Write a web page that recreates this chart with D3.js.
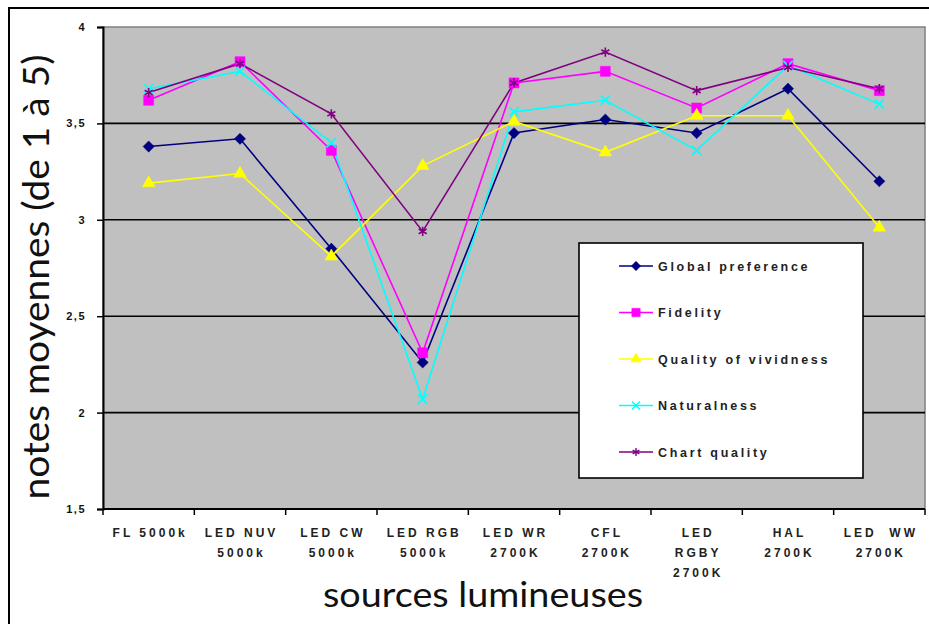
<!DOCTYPE html>
<html>
<head>
<meta charset="utf-8">
<script src="https://cdn.jsdelivr.net/npm/d3@7"></script>
<style>
  html, body { margin: 0; padding: 0; background: #fff; }
  svg { display: block; }
  .tick text { font-family: Arial, "Liberation Sans", sans-serif; font-weight: bold; }
</style>
</head>
<body>
<svg id="chart" width="929" height="624"></svg>
<script>
const categories = ["FL 5000k", "LED NUV\n5000k", "LED CW\n5000k", "LED RGB\n5000k", "LED WR\n2700K", "CFL\n2700K", "LED\nRGBY\n2700K", "HAL\n2700K", "LED  WW\n2700K"];
const seriesNames = ["Global preference", "Fidelity", "Quality of vividness", "Naturalness", "Chart quality"];
const globalPreference = [3.38, 3.42, 2.85, 2.26, 3.45, 3.52, 3.45, 3.68, 3.20];
const fidelity = [3.62, 3.82, 3.36, 2.31, 3.71, 3.77, 3.58, 3.81, 3.67];
const qualityOfVividness = [3.19, 3.24, 2.81, 3.28, 3.51, 3.35, 3.54, 3.54, 2.96];
const naturalness = [3.68, 3.77, 3.40, 2.07, 3.56, 3.62, 3.36, 3.80, 3.60];
const chartQuality = [3.66, 3.81, 3.55, 2.94, 3.71, 3.87, 3.67, 3.79, 3.68];
const yTicks = [1.5, 2, 2.5, 3, 3.5, 4];
const yTitle = "notes moyennes (de 1 à 5)";
const xTitle = "sources lumineuses";

const seriesValues = [globalPreference, fidelity, qualityOfVividness, naturalness, chartQuality];
const colors = ["#000080", "#FF00FF", "#FFFF00", "#00FFFF", "#800080"];
const symbols = [d3.symbolDiamond2, d3.symbolSquare, d3.symbolTriangle, d3.symbolX, d3.symbolAsterisk];
const symbolSizes = [80, 100, 70, 60, 60];
const filled = [true, true, true, false, false];

const svg = d3.select("#chart");
const pLeft = 103, pRight = 925, pTop = 27, pBottom = 509;

const x = d3.scaleBand().domain(categories).range([pLeft, pRight]).padding(0);
const y = d3.scaleLinear().domain([1.5, 4]).range([pBottom, pTop]);

// outer frame
svg.append("rect").attr("x", 9).attr("y", 8).attr("width", 940).attr("height", 640)
  .attr("fill", "none").attr("stroke", "#000").attr("stroke-width", 2);

// plot background
svg.append("rect").attr("x", pLeft).attr("y", pTop).attr("width", pRight - pLeft).attr("height", pBottom - pTop)
  .attr("fill", "#C0C0C0").attr("stroke", "#808080").attr("stroke-width", 1.5);

// gridlines
svg.append("g").selectAll("line").data(yTicks.filter(d => d > 1.5 && d < 4)).join("line")
  .attr("x1", pLeft).attr("x2", pRight).attr("y1", d => y(d)).attr("y2", d => y(d))
  .attr("stroke", "#000").attr("stroke-width", 1.6);

// y axis
const yAxis = svg.append("g").attr("transform", `translate(${pLeft},0)`)
  .call(d3.axisLeft(y).tickValues(yTicks).tickSize(6).tickPadding(11)
    .tickFormat(d => String(d).replace(".", ",")));
yAxis.select(".domain").attr("stroke", "#000").attr("stroke-width", 2);
yAxis.selectAll(".tick line").attr("stroke", "#000").attr("stroke-width", 1.5);
yAxis.selectAll(".tick text").attr("font-size", 11).attr("fill", "#111").attr("letter-spacing", 1.5);

// x axis
const bandEdges = categories.map(c => x(c)).concat([pRight]);
svg.append("line").attr("x1", pLeft).attr("x2", pRight).attr("y1", pBottom).attr("y2", pBottom)
  .attr("stroke", "#000").attr("stroke-width", 2);
svg.append("g").selectAll("line").data(bandEdges).join("line")
  .attr("x1", d => d).attr("x2", d => d).attr("y1", pBottom).attr("y2", pBottom + 6)
  .attr("stroke", "#000").attr("stroke-width", 1.5);
const xl = svg.append("g").selectAll("text").data(categories).join("text")
  .attr("x", d => x(d) + x.bandwidth() / 2)
  .attr("y", 537)
  .attr("text-anchor", "middle")
  .attr("font-family", "Arial, 'Liberation Sans', sans-serif")
  .attr("font-weight", "bold").attr("font-size", 12).attr("fill", "#222")
  .attr("letter-spacing", 3);
xl.each(function(d) {
  const t = d3.select(this);
  d.split("\n").forEach((ln, i) => {
    t.append("tspan").attr("x", x(d) + x.bandwidth() / 2 + 1.5).attr("dy", i === 0 ? 0 : 20)
      .attr("xml:space", "preserve").text(ln);
  });
});

// lines
const line = d3.line().x((d, i) => x(categories[i]) + x.bandwidth() / 2).y(d => y(d));
seriesValues.forEach((vals, s) => {
  svg.append("path").datum(vals).attr("d", line)
    .attr("fill", "none").attr("stroke", colors[s]).attr("stroke-width", 1.6);
});
seriesValues.forEach((vals, s) => {
  svg.append("g").selectAll("path").data(vals).join("path")
    .attr("transform", (d, i) => `translate(${x(categories[i]) + x.bandwidth() / 2},${y(d)})`)
    .attr("d", d3.symbol(symbols[s], symbolSizes[s]))
    .attr("fill", filled[s] ? colors[s] : "none")
    .attr("stroke", colors[s]).attr("stroke-width", filled[s] ? 0.5 : 1.6);
});

// legend
const lg = svg.append("g");
lg.append("rect").attr("x", 579).attr("y", 243).attr("width", 284).attr("height", 235)
  .attr("fill", "#fff").attr("stroke", "#000").attr("stroke-width", 1.6);
seriesNames.forEach((name, s) => {
  const cy = 266 + s * 46.5;
  lg.append("line").attr("x1", 619).attr("x2", 653).attr("y1", cy).attr("y2", cy)
    .attr("stroke", colors[s]).attr("stroke-width", 1.6);
  lg.append("path").attr("transform", `translate(636,${cy})`)
    .attr("d", d3.symbol(symbols[s], symbolSizes[s] * 0.7))
    .attr("fill", filled[s] ? colors[s] : "none")
    .attr("stroke", colors[s]).attr("stroke-width", filled[s] ? 0.5 : 1.4);
  lg.append("text").attr("x", 658).attr("y", cy + 4.5)
    .attr("font-family", "Arial, 'Liberation Sans', sans-serif")
    .attr("font-weight", "bold").attr("font-size", 12.5).attr("fill", "#222")
    .attr("letter-spacing", 2.7).text(name);
});

// titles
svg.append("text").attr("transform", "translate(49,277) rotate(-90)")
  .attr("text-anchor", "middle").attr("font-family", "Lato, 'Open Sans', sans-serif")
  .attr("font-size", 36).attr("fill", "#111")
  .attr("textLength", 445).attr("lengthAdjust", "spacingAndGlyphs").text(yTitle);
svg.append("text").attr("x", 483).attr("y", 607)
  .attr("text-anchor", "middle").attr("font-family", "Lato, 'Open Sans', sans-serif")
  .attr("font-size", 35).attr("fill", "#111")
  .attr("textLength", 320).attr("lengthAdjust", "spacingAndGlyphs").text(xTitle);
</script>
</body>
</html>
